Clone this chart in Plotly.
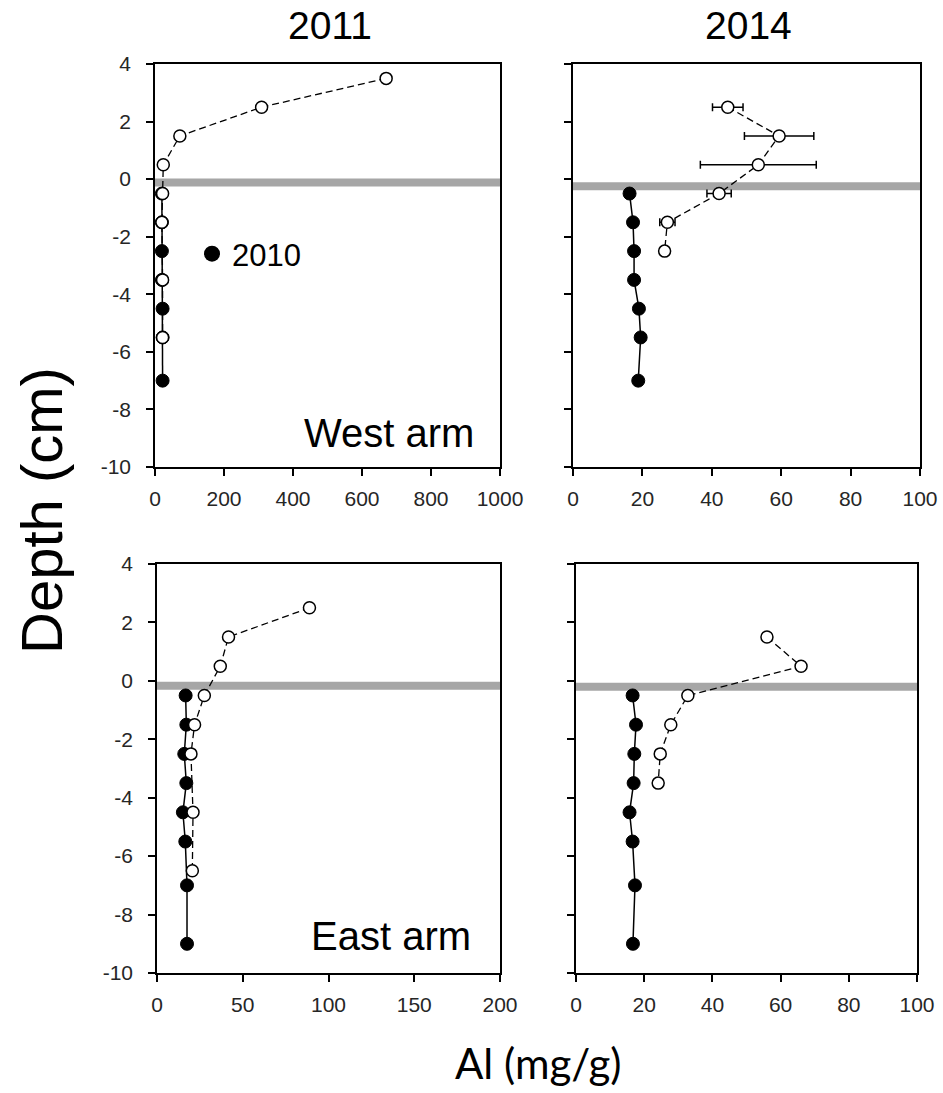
import plotly.graph_objects as go

W, H = 943, 1093

# ---- data: Al concentration (mg/g) versus depth (cm) ----
# 2010 baseline cores (filled symbols)
depth_2010_west = [-0.5, -1.5, -2.5, -3.5, -4.5, -5.5, -7]
al_2010_west_2011 = [20, 20, 20, 20, 22, 22, 22]
al_2010_west_2014 = [16.3, 17.3, 17.6, 17.6, 19.0, 19.5, 18.8]

depth_2010_east = [-0.5, -1.5, -2.5, -3.5, -4.5, -5.5, -7, -9]
al_2010_east_2011 = [16.7, 17.1, 15.9, 17.1, 15.1, 16.5, 17.5, 17.5]
al_2010_east_2014 = [16.6, 17.6, 17.1, 16.9, 15.7, 16.6, 17.3, 16.7]

# post-treatment cores (open symbols)
depth_west_2011 = [3.5, 2.5, 1.5, 0.5, -0.5, -1.5, -3.5, -5.5]
al_west_2011 = [670, 309, 72, 24, 22, 20, 22, 22]

depth_west_2014 = [2.5, 1.5, 0.5, -0.5, -1.5, -2.5]
al_west_2014 = [44.6, 59.4, 53.4, 42.1, 27.2, 26.4]
err_west_2014 = [4.4, 10.0, 16.7, 3.5, 2.2, 0]

depth_east_2011 = [2.5, 1.5, 0.5, -0.5, -1.5, -2.5, -4.5, -6.5]
al_east_2011 = [88.9, 41.7, 36.9, 27.6, 21.9, 19.8, 21.0, 20.6]

depth_east_2014 = [1.5, 0.5, -0.5, -1.5, -2.5, -3.5]
al_east_2014 = [56.0, 66.0, 32.8, 27.8, 24.7, 24.1]

# sediment surface marker depth per panel
surface_depth = [-0.12, -0.25, -0.17, -0.2]

x_ranges = [[0, 1000], [0, 100], [0, 200], [0, 100]]
x_dticks = [200, 20, 50, 20]
depth_ticks = [4, 2, 0, -2, -4, -6, -8, -10]
depth_tick_labels = ["4", "2", "0", "-2", "-4", "-6", "-8", "-10"]
col_titles = ["2011", "2014"]
row_labels = ["West arm", "East arm"]
x_title = "Al (mg/g)"
y_title = "Depth (cm)"
legend_label = "2010"

FONT = "Liberation Sans, Arial, sans-serif"

def px_x(v):
    return v / W

def px_y(v):
    return 1 - v / H

# panel rectangles in pixels: (left, right, top, bottom)
panels = [
    (155, 500, 64, 467),
    (573, 920, 64, 467),
    (157, 500, 564, 973),
    (576, 917, 564, 973),
]

fig = go.Figure()

filled_sets = [
    (al_2010_west_2011, depth_2010_west),
    (al_2010_west_2014, depth_2010_west),
    (al_2010_east_2011, depth_2010_east),
    (al_2010_east_2014, depth_2010_east),
]
open_sets = [
    (al_west_2011, depth_west_2011, None),
    (al_west_2014, depth_west_2014, err_west_2014),
    (al_east_2011, depth_east_2011, None),
    (al_east_2014, depth_east_2014, None),
]

for i in range(4):
    sfx = "" if i == 0 else str(i + 1)
    xa, ya = "x" + sfx, "y" + sfx
    fx, fy = filled_sets[i]
    fig.add_trace(go.Scatter(
        x=fx, y=fy, xaxis=xa, yaxis=ya, mode="lines+markers",
        line=dict(color="black", width=1.5),
        marker=dict(symbol="circle", size=13, color="black",
                    line=dict(color="black", width=1)),
        showlegend=False,
    ))
    ox, oy, oe = open_sets[i]
    kw = {}
    if oe is not None:
        kw["error_x"] = dict(type="data", array=oe, visible=True,
                             color="black", thickness=1.5, width=4)
    fig.add_trace(go.Scatter(
        x=ox, y=oy, xaxis=xa, yaxis=ya, mode="lines+markers",
        line=dict(color="black", width=1.3, dash="7px,4px"),
        marker=dict(symbol="circle", size=12, color="white",
                    line=dict(color="black", width=1.5)),
        showlegend=False, **kw,
    ))
    # sediment-water interface band
    fig.add_shape(type="line", xref=xa + " domain", yref=ya,
                  x0=0, x1=1, y0=surface_depth[i], y1=surface_depth[i],
                  line=dict(color="#a6a6a6", width=8), layer="below")

# legend entry for the 2010 cores
fig.add_trace(go.Scatter(
    x=[None], y=[None], mode="markers", name=legend_label,
    marker=dict(symbol="circle", size=16, color="black"),
    showlegend=True,
))

axis_common = dict(
    showgrid=False, zeroline=False, showline=True, linecolor="black",
    linewidth=1.5, mirror=True, ticks="outside", ticklen=7, tickwidth=1.5,
    tickcolor="black", automargin=False,
    tickfont=dict(family=FONT, size=21, color="#262626"),
)

layout_axes = {}
for i, (l, r, t, b) in enumerate(panels):
    sfx = "" if i == 0 else str(i + 1)
    layout_axes["xaxis" + sfx] = dict(
        axis_common, domain=[px_x(l), px_x(r)], range=x_ranges[i],
        dtick=x_dticks[i], tick0=0, anchor="y" + sfx,
        ticklabelstandoff=5,
    )
    layout_axes["yaxis" + sfx] = dict(
        axis_common, domain=[px_y(b), px_y(t)], range=[-10, 4],
        tickmode="array", tickvals=depth_ticks, ticktext=depth_tick_labels,
        anchor="x" + sfx, showticklabels=(i % 2 == 0),
        ticklabelstandoff=11,
    )

annotations = [
    dict(text=col_titles[0], x=px_x(330), y=px_y(26), font=dict(size=39)),
    dict(text=col_titles[1], x=px_x(748), y=px_y(26), font=dict(size=39)),
    dict(text=row_labels[0], x=px_x(476), y=px_y(433), xanchor="right",
         font=dict(size=40)),
    dict(text=row_labels[1], x=px_x(473), y=px_y(936), xanchor="right",
         font=dict(size=40)),
    dict(text=y_title, x=px_x(42), y=px_y(511), textangle=-90,
         font=dict(size=58)),
    dict(text=x_title, x=px_x(538), y=px_y(1063),
         font=dict(size=42, family="Lato, Carlito, sans-serif")),
]
for a in annotations:
    a.setdefault("xanchor", "center")
    a.setdefault("yanchor", "middle")
    a.update(xref="paper", yref="paper", showarrow=False)
    a["font"] = dict(dict(family=FONT, color="black"), **a["font"])

fig.update_layout(
    template="none",
    width=W, height=H, margin=dict(l=0, r=0, t=0, b=0, autoexpand=False),
    paper_bgcolor="white", plot_bgcolor="white",
    annotations=annotations,
    legend=dict(x=px_x(192), y=px_y(254), xanchor="left", yanchor="middle",
                bgcolor="rgba(0,0,0,0)", font=dict(family=FONT, size=31, color="black"),
                itemsizing="trace"),
    **layout_axes,
)

fig.write_html("out.html")
